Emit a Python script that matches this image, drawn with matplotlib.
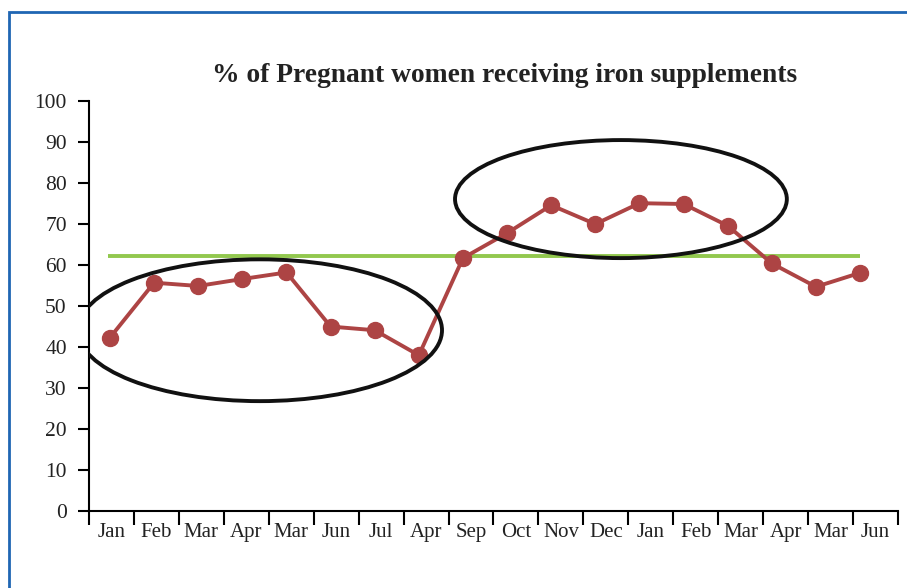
"""Run chart: % of pregnant women receiving iron supplements."""

import matplotlib

matplotlib.use("Agg")
import matplotlib.pyplot as plt
from matplotlib.patches import Ellipse, Rectangle

months = ["Jan", "Feb", "Mar", "Apr", "Mar", "Jun", "Jul", "Apr", "Sep",
          "Oct", "Nov", "Dec", "Jan", "Feb", "Mar", "Apr", "Mar", "Jun"]
percent = [42.3, 55.7, 54.9, 56.6, 58.2, 45.0, 44.1, 38.0, 61.7,
           67.8, 74.6, 70.0, 75.1, 74.9, 69.6, 60.4, 54.7, 58.1]
target = 62.2
# circled periods: (centre x, centre y, width, height) in data units
circles = [(3.4, 44.1, 8.25, 34.6), (11.58, 76.1, 7.52, 28.8)]

LINE = "#ad4444"
GREEN = "#92c84e"
BLUE = "#1f66b3"

plt.rcParams["font.family"] = ["Liberation Serif", "DejaVu Serif"]


def main() -> None:
    fig = plt.figure(figsize=(9.07, 5.88), dpi=100)
    rect = [0.0981, 0.131, 0.892, 0.697]

    # frame axis: category boundaries as ticks, labels in the middle
    ax = fig.add_axes(rect)
    n = len(months)
    ax.set_xlim(0, n)
    ax.set_ylim(0, 100)
    ax.set_xticks(range(n + 1))
    ax.set_xticklabels([])
    ax.set_xticks([i + 0.5 for i in range(n)], months, minor=True)
    ax.tick_params(axis="x", which="major", direction="out", length=10, width=1.5)
    ax.tick_params(axis="x", which="minor", length=0, pad=9, labelsize=15,
                   labelcolor="#222222")
    ax.set_yticks(range(0, 101, 10))
    ax.tick_params(axis="y", direction="out", length=8, width=1.5, pad=8,
                   labelsize=15.5, labelcolor="#222222")
    ax.spines[["top", "right"]].set_visible(False)
    ax.spines[["left", "bottom"]].set_linewidth(1.5)

    # data axis laid over the frame
    dx = fig.add_axes(rect)
    dx.set_xlim(-0.476, 17.86)
    dx.set_ylim(0, 100)
    dx.axis("off")
    xs = list(range(len(percent)))
    dx.plot([xs[0] - 0.05, xs[-1]], [target, target], color=GREEN, linewidth=2.8,
            solid_capstyle="butt", zorder=2)
    dx.plot(xs, percent, color=LINE, linewidth=2.8, marker="o", markersize=11.5,
            zorder=3)
    for cx, cy, w, h in circles:
        dx.add_patch(Ellipse((cx, cy), w, h, fill=False, edgecolor="#111111",
                             linewidth=2.8, zorder=4))

    fig.text(0.556, 0.871, "% of Pregnant women receiving iron supplements",
             ha="center", va="center", fontsize=19.8, fontweight="bold",
             color="#222222")

    fig.patches.append(Rectangle((0.0099, -0.05), 1.1, 1.03, transform=fig.transFigure,
                                 fill=False, edgecolor=BLUE, linewidth=2))

    fig.savefig("out.png", dpi=100)
    plt.close(fig)


if __name__ == "__main__":
    main()
